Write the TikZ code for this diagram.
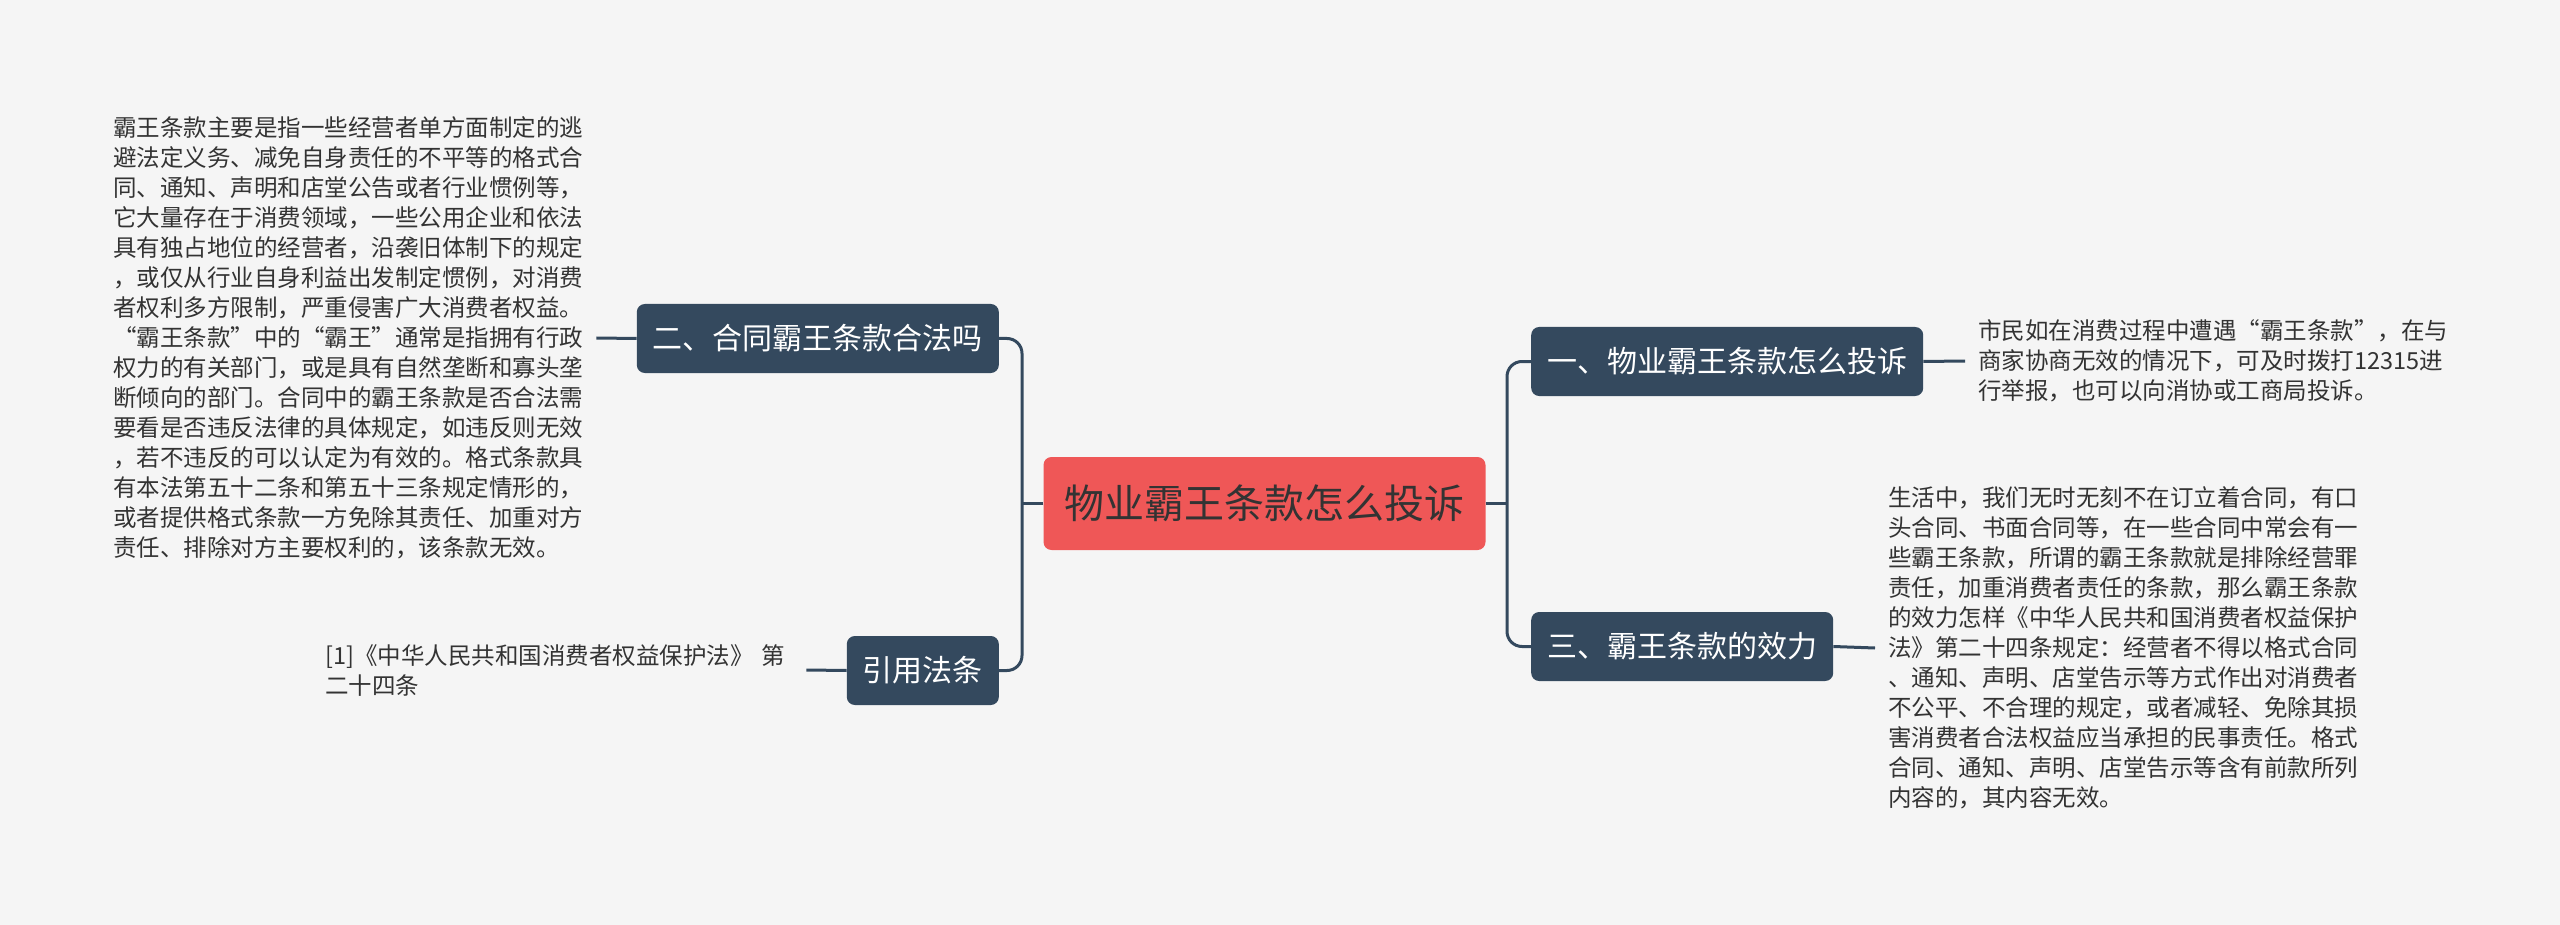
\documentclass[tikz,border=0pt]{standalone}
\usepackage{fontspec}
\newfontfamily\cjk{Noto Sans CJK SC}
\definecolor{nodeblue}{RGB}{52,73,94}
\definecolor{rootred}{RGB}{239,87,87}
\definecolor{textdark}{RGB}{51,51,51}
\definecolor{bgcol}{RGB}{245,245,245}
\begin{document}
\begin{tikzpicture}[x=1pt,y=-1pt,
  conn/.style={draw=nodeblue, line width=3pt},
  branch/.style={fill=nodeblue, rounded corners=8pt, text=white, font=\cjk\fontsize{30}{36}\selectfont, inner xsep=16pt, inner ysep=0pt, minimum height=69pt},
  root/.style={fill=rootred, rounded corners=8pt, text=textdark, font=\cjk\fontsize{40}{48}\selectfont, inner xsep=21pt, inner ysep=0pt, minimum height=93pt},
  desc/.style={text=textdark, font=\cjk\fontsize{23.5}{30}\selectfont, align=left, inner xsep=13pt, inner ysep=0pt}]
\useasboundingbox (0,0) rectangle (2560,925);
\fill[bgcol] (0,0) rectangle (2560,925);

\node[root] (c) at (1264.5,503.5) {物业霸王条款怎么投诉};

\node[branch, anchor=east] (b2) at (999,338.5) {二、合同霸王条款合法吗};
\node[branch, anchor=east] (b4) at (999,670.5) {引用法条};
\node[branch, anchor=west] (b1) at (1531,361.5) {一、物业霸王条款怎么投诉};
\node[branch, anchor=west] (b3) at (1531,646.5) {三、霸王条款的效力};

\coordinate (tl) at (1022,503.5);
\coordinate (tr) at (1507,503.5);

\draw[conn, rounded corners=15pt] (b2.east) -| (tl) |- (b4.east);
\draw[conn] (c.west) -- (tl);
\draw[conn, rounded corners=15pt] (b1.west) -| (tr) |- (b3.west);
\draw[conn] (c.east) -- (tr);

\node[desc, anchor=west] (t2) at (100,338) {霸王条款主要是指一些经营者单方面制定的逃\\
避法定义务、减免自身责任的不平等的格式合\\
同、通知、声明和店堂公告或者行业惯例等，\\
它大量存在于消费领域，一些公用企业和依法\\
具有独占地位的经营者，沿袭旧体制下的规定\\
，或仅从行业自身利益出发制定惯例，对消费\\
者权利多方限制，严重侵害广大消费者权益。\\
“霸王条款”中的“霸王”通常是指拥有行政\\
权力的有关部门，或是具有自然垄断和寡头垄\\
断倾向的部门。合同中的霸王条款是否合法需\\
要看是否违反法律的具体规定，如违反则无效\\
，若不违反的可以认定为有效的。格式条款具\\
有本法第五十二条和第五十三条规定情形的，\\
或者提供格式条款一方免除其责任、加重对方\\
责任、排除对方主要权利的，该条款无效。};

\node[desc, anchor=west, text width=468pt] (t4) at (312,670) {[1]《中华人民共和国消费者权益保护法》 第\\
二十四条};

\node[desc, anchor=west] (t1) at (1965,361) {市民如在消费过程中遭遇“霸王条款”，在与\\
商家协商无效的情况下，可及时拨打12315进\\
行举报，也可以向消协或工商局投诉。};

\node[desc, anchor=west] (t3) at (1875,648) {生活中，我们无时无刻不在订立着合同，有口\\
头合同、书面合同等，在一些合同中常会有一\\
些霸王条款，所谓的霸王条款就是排除经营罪\\
责任，加重消费者责任的条款，那么霸王条款\\
的效力怎样《中华人民共和国消费者权益保护\\
法》第二十四条规定：经营者不得以格式合同\\
、通知、声明、店堂告示等方式作出对消费者\\
不公平、不合理的规定，或者减轻、免除其损\\
害消费者合法权益应当承担的民事责任。格式\\
合同、通知、声明、店堂告示等含有前款所列\\
内容的，其内容无效。};

\draw[conn] (t2.east) -- (b2.west);
\draw[conn] (t4.east) -- (b4.west);
\draw[conn] (b1.east) -- (t1.west);
\draw[conn] (b3.east) -- (t3.west);
\end{tikzpicture}
\end{document}
